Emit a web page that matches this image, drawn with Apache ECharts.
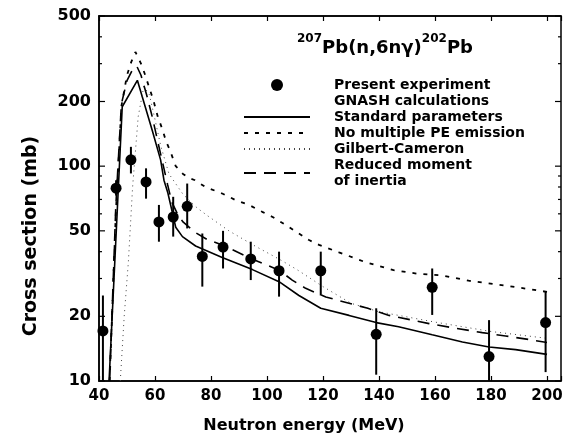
<!DOCTYPE html>
<html><head><meta charset="utf-8">
<script src="https://cdn.jsdelivr.net/npm/echarts@6/dist/echarts.min.js"></script>
<style>html,body{margin:0;padding:0;background:#fff}#c{width:568px;height:442px}</style>
</head><body><div id="c"></div>
<script>
const FONT = 'DejaVu Sans';

// Experimental points
const energy    = [41.4, 46.1, 51.4, 56.8, 61.4, 66.5, 71.5, 76.9, 84.3, 94.2, 104.3, 119.2, 139, 159, 179.3, 199.5];
const sigma     = [17.1, 79, 107, 84.5, 55, 58, 65, 38, 42, 37, 32.6, 32.6, 16.5, 27.3, 13, 18.7];
const sigmaLow  = [10, 73, 92.5, 70.6, 44.5, 47, 51.3, 27.5, 33.4, 29.5, 24.7, 25, 10.7, 20.3, 10, 11];
const sigmaHigh = [25, 86, 123, 97.7, 66, 72, 83, 48.6, 50, 44.5, 40, 40, 21.8, 33.4, 19.2, 26];

// GNASH: standard parameters
const stdE = [43.6, 48.3, 53.7, 59, 62, 63.2, 64.6, 67.4, 69.8, 74.5, 84, 94.8, 104.3, 111.4, 119.2, 129.3, 139, 147, 159, 169.8, 179.3, 188.8, 200];
const stdV = [10, 189, 251, 147, 107, 86, 75, 52, 47, 42.5, 37.6, 33, 29, 25, 21.8, 20.2, 18.7, 17.9, 16.4, 15.2, 14.4, 14.0, 13.3];

// No multiple PE emission
const npeE = [43.8, 46, 48, 50, 51.5, 53, 55, 56.3, 57.9, 59.4, 61, 62.5, 64, 65.4, 67.4, 70, 72.2, 74.3, 78, 84, 88.8, 93.6, 98.3, 102, 106.7, 111.4, 115, 118.6, 125.7, 135, 145.2, 153.6, 162.6, 172, 181.7, 190, 200];
const npeV = [10, 60, 190, 265, 305, 340, 300, 270, 233, 203, 170, 150, 130, 118, 100, 92, 88, 86, 80, 74.6, 69.5, 66, 61.3, 58, 53.2, 48.6, 45.3, 43, 39.7, 35.8, 32.8, 31.6, 31, 29.3, 28.2, 27.2, 26];

// Gilbert-Cameron
const gcE = [47.6, 49, 50.5, 52, 54, 56, 58, 60, 62, 65, 70, 75, 78.6, 86.4, 95, 105, 110.7, 120, 130, 140, 160, 180, 200];
const gcV = [10, 20, 36, 80, 170, 235, 215, 165, 125, 92, 74, 64, 59, 50, 43, 36.5, 33, 27.5, 23, 21, 18.8, 17, 15.8];

// Reduced moment of inertia
const rmE = [43.8, 46, 48, 50, 52, 53.5, 55, 57, 59, 61, 63, 64.5, 66, 68, 70, 74.5, 78.6, 84, 94.2, 104.3, 109, 113.8, 121, 136, 143.6, 151.9, 157.9, 167.4, 176.9, 185.2, 193.6, 200];
const rmV = [10, 65, 195, 250, 282, 292, 265, 215, 170, 130, 100, 82, 68, 60, 55, 49, 45.6, 43, 37.2, 32.8, 29.5, 27, 24.6, 21.8, 20.2, 19.2, 18.5, 17.6, 16.8, 16.2, 15.6, 15.1];

// Axis ticks
const xTickLabels = [40, 60, 80, 100, 120, 140, 160, 180, 200];
const yTickLabels = [10, 20, 50, 100, 200, 500];
const yTicks = [10, 20, 30, 40, 50, 60, 70, 80, 90, 100, 200, 300, 400, 500];

const X_MIN = 40, X_MAX = 205;
const zip = (a, b) => a.map((v, i) => [v, b[i]]);

const chart = echarts.init(document.getElementById('c'), null, {renderer: 'canvas'});

const labelStyle = {fontFamily: FONT, fontWeight: 'bold', color: '#000'};
const noSymbol = {opacity: 0};

const option = {
  backgroundColor: '#fff',
  animation: false,
  title: {
    text: '{s|207}{b|Pb(n,6nγ)}{s|202}{b|Pb}',
    left: 292, top: 28,
    textStyle: {
      rich: {
        s: {fontFamily: FONT, fontWeight: 'bold', fontSize: 12, lineHeight: 14, verticalAlign: 'top', color: '#000'},
        b: {fontFamily: FONT, fontWeight: 'bold', fontSize: 18, lineHeight: 24, verticalAlign: 'bottom', color: '#000'}
      }
    }
  },
  legend: {
    orient: 'vertical', left: 243, top: 77, padding: 0,
    itemWidth: 66, itemHeight: 12, itemGap: 0,
    selectedMode: false,
    textStyle: {fontFamily: FONT, fontWeight: 'bold', fontSize: 14, lineHeight: 16, color: '#000', padding: [0, 0, 0, 19]},
    data: [
      {name: 'Present experiment', itemStyle: {color: '#000', opacity: 1}},
      {name: 'GNASH calculations', itemStyle: noSymbol},
      {name: 'Standard parameters', itemStyle: noSymbol},
      {name: 'No multiple PE emission', itemStyle: noSymbol},
      {name: 'Gilbert-Cameron', itemStyle: noSymbol},
      {name: 'Reduced moment\nof inertia', itemStyle: noSymbol}
    ]
  },
  grid: {left: 99, right: 7, top: 16, bottom: 61, show: true, borderColor: '#000', borderWidth: 1.5, backgroundColor: 'transparent'},
  xAxis: [{
    type: 'value', min: X_MIN, max: X_MAX, interval: 20,
    name: 'Neutron energy (MeV)', nameLocation: 'middle', nameGap: 37,
    nameTextStyle: {fontFamily: FONT, fontWeight: 'bold', fontSize: 16, color: '#000', padding: [0, 52, 0, 0]},
    axisLine: {show: true, lineStyle: {color: '#000', width: 1.5}},
    axisTick: {show: true, inside: true, length: 5, lineStyle: {color: '#000', width: 1.2}},
    axisLabel: Object.assign({fontSize: 15, margin: 8, formatter: v => xTickLabels.includes(v) ? String(v) : ''}, labelStyle),
    splitLine: {show: false}
  }, {
    type: 'value', min: X_MIN, max: X_MAX, interval: 20, position: 'top',
    axisLine: {show: true, lineStyle: {color: '#000', width: 1.5}},
    axisTick: {show: true, inside: true, length: 5, lineStyle: {color: '#000', width: 1.2}},
    axisLabel: {show: false}, splitLine: {show: false}
  }],
  yAxis: [{
    type: 'log', logBase: 10, min: 10, max: 500,
    name: 'Cross section (mb)', nameLocation: 'middle', nameGap: 58,
    nameTextStyle: {fontFamily: FONT, fontWeight: 'bold', fontSize: 19, color: '#000', padding: [0, 75, 0, 0]},
    axisLine: {show: true, lineStyle: {color: '#000', width: 1.5}},
    axisTick: {show: false}, axisLabel: {show: false}, splitLine: {show: false}
  }],
  series: [
    {
      name: 'GNASH calculations', type: 'line', data: [], symbol: 'none',
      lineStyle: {opacity: 0}, itemStyle: {opacity: 0}
    },
    {
      name: 'Standard parameters', type: 'line', data: zip(stdE, stdV), symbol: 'none',
      lineStyle: {color: '#000', width: 1.6, type: 'solid'}, itemStyle: {color: '#000'}, z: 3
    },
    {
      name: 'No multiple PE emission', type: 'line', data: zip(npeE, npeV), symbol: 'none',
      lineStyle: {color: '#000', width: 1.8, type: [4, 7]}, itemStyle: {color: '#000'}, z: 3
    },
    {
      name: 'Gilbert-Cameron', type: 'line', data: zip(gcE, gcV), symbol: 'none',
      lineStyle: {color: '#444', width: 1, type: [1, 4]}, itemStyle: {color: '#444'}, z: 3
    },
    {
      name: 'Reduced moment\nof inertia', type: 'line', data: zip(rmE, rmV), symbol: 'none',
      lineStyle: {color: '#000', width: 1.6, type: [12, 8]}, itemStyle: {color: '#000'}, z: 3
    },
    {
      name: 'errorbars', type: 'custom', clip: true, z: 4,
      data: energy.map((e, i) => [e, sigmaLow[i], sigmaHigh[i]]),
      encode: {x: 0, y: [1, 2]},
      renderItem: (params, api) => {
        const lo = api.coord([api.value(0), api.value(1)]);
        const hi = api.coord([api.value(0), api.value(2)]);
        return {type: 'line', shape: {x1: lo[0], y1: lo[1], x2: hi[0], y2: hi[1]}, style: {stroke: '#000', lineWidth: 2}};
      }
    },
    {
      name: 'Present experiment', type: 'scatter', data: zip(energy, sigma),
      symbol: 'circle', symbolSize: 11, itemStyle: {color: '#000', opacity: 1}, z: 5
    },
    {
      name: 'yticks', type: 'custom', clip: false, z: 6, silent: true,
      data: yTicks.map(v => [X_MIN, v]),
      encode: {x: 0, y: 1},
      renderItem: (params, api) => {
        const v = api.value(1);
        const pl = api.coord([X_MIN, v]);
        const pr = api.coord([X_MAX, v]);
        const major = yTickLabels.includes(v);
        const len = major ? 6 : 3;
        const children = [
          {type: 'line', shape: {x1: pl[0], y1: pl[1], x2: pl[0] + len, y2: pl[1]}, style: {stroke: '#000', lineWidth: 1.2}},
          {type: 'line', shape: {x1: pr[0], y1: pr[1], x2: pr[0] - len, y2: pr[1]}, style: {stroke: '#000', lineWidth: 1.2}}
        ];
        if (major) {
          children.push({type: 'text', x: pl[0] - 8, y: pl[1], style: {text: String(v), align: 'right', verticalAlign: 'middle', font: 'bold 16px "DejaVu Sans"', fill: '#000'}});
        }
        return {type: 'group', children};
      }
    }
  ]
};
chart.setOption(option);
</script>
</body></html>
